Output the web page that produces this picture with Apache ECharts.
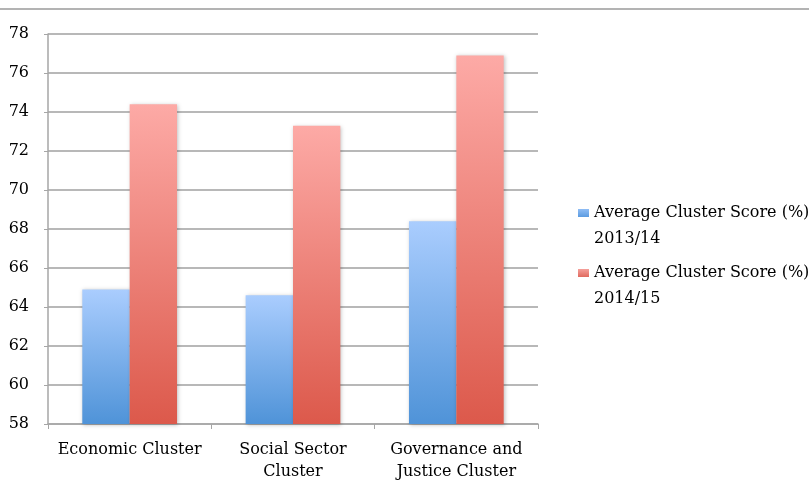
<!DOCTYPE html>
<html><head><meta charset="utf-8">
<script src="https://cdn.jsdelivr.net/npm/echarts@6/dist/echarts.min.js"></script>
<style>html,body{margin:0;padding:0;background:#fff}#c{width:809px;height:483px}</style>
</head><body><div id="c"></div>
<script>
const categories = ['Economic Cluster', 'Social Sector\nCluster', 'Governance and\nJustice Cluster'];
const seriesNames = ['Average Cluster Score (%)\n2013/14', 'Average Cluster Score (%)\n2014/15'];
const values2013 = [64.9, 64.6, 68.4];
const values2014 = [74.4, 73.3, 76.9];

const font = 'DejaVu Serif';
const blueGrad = new echarts.graphic.LinearGradient(0,0,0,1,[{offset:0,color:'#aacdfe'},{offset:1,color:'#4f93d8'}]);
const redGrad = new echarts.graphic.LinearGradient(0,0,0,1,[{offset:0,color:'#fdaaa6'},{offset:1,color:'#dc594b'}]);
const blueIcon = new echarts.graphic.LinearGradient(0,0,0,1,[{offset:0,color:'#8fbdf5'},{offset:1,color:'#5b9be0'}]);
const redIcon = new echarts.graphic.LinearGradient(0,0,0,1,[{offset:0,color:'#f5a09b'},{offset:1,color:'#e06a5e'}]);
const legendBase = {orient:'vertical',left:573,itemWidth:11,itemHeight:8,icon:'rect',
  formatter: n => '\n' + n,
  textStyle:{fontFamily:font,fontSize:16,color:'#000',lineHeight:26}};
const chart = echarts.init(document.getElementById('c'));
chart.setOption({
  animation:false,
  graphic:[{type:'line',shape:{x1:0,y1:9,x2:809,y2:9},style:{stroke:'#b3b3b3',lineWidth:2}}],
  grid:{left:48,right:271,top:34,bottom:58},
  legend:[
    Object.assign({}, legendBase, {top:169, data:[{name:seriesNames[0], itemStyle:{color:blueIcon}}]}),
    Object.assign({}, legendBase, {top:229, data:[{name:seriesNames[1], itemStyle:{color:redIcon}}]})
  ],
  xAxis:{type:'category',data:categories,
    axisLine:{lineStyle:{color:'#a6a6a6',width:1.5}},
    axisTick:{show:true,length:5,lineStyle:{color:'#a6a6a6'}},
    axisLabel:{interval:0,fontFamily:font,fontSize:16,color:'#000',lineHeight:22,margin:15}},
  yAxis:{type:'value',min:58,max:78,interval:2,
    axisLine:{show:true,lineStyle:{color:'#a6a6a6',width:1.5}},
    axisTick:{show:true,length:4,lineStyle:{color:'#a6a6a6'}},
    splitLine:{lineStyle:{color:'#a0a0a0',width:1.5}},
    axisLabel:{fontFamily:font,fontSize:16,color:'#000',margin:19}},
  series:[
    {name:seriesNames[0],type:'bar',data:values2013,barGap:'0%',barCategoryGap:'42%',
     itemStyle:{color:blueGrad,shadowColor:'rgba(0,0,0,0.25)',shadowBlur:4,shadowOffsetX:1,shadowOffsetY:1}},
    {name:seriesNames[1],type:'bar',data:values2014,barGap:'0%',barCategoryGap:'42%',
     itemStyle:{color:redGrad,shadowColor:'rgba(0,0,0,0.25)',shadowBlur:4,shadowOffsetX:1,shadowOffsetY:1}}
  ]
});
</script></body></html>
